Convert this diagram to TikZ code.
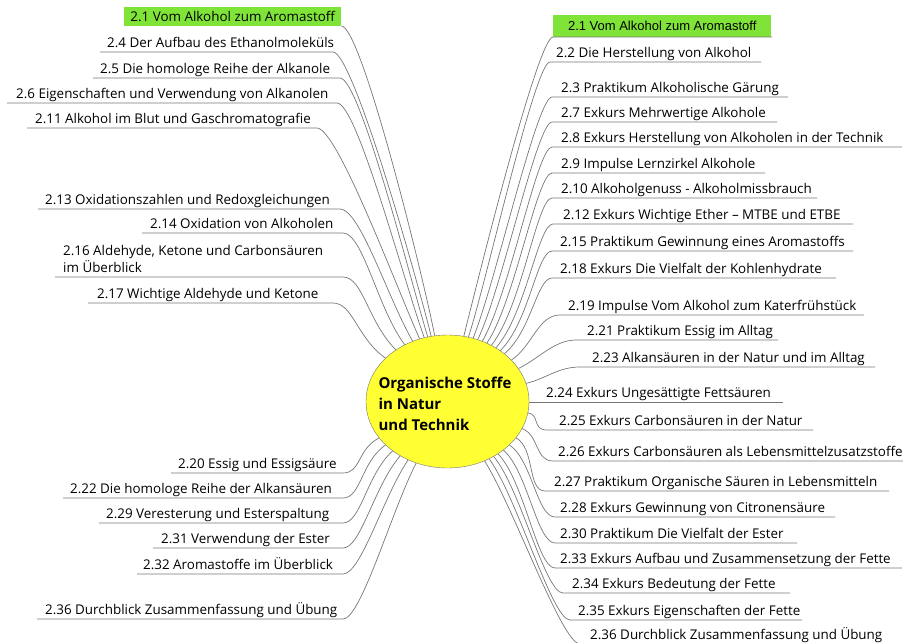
\documentclass[tikz,border=0pt]{standalone}
\usepackage{fontspec}
\setmainfont{Open Sans}
\newfontfamily\arialf{Liberation Sans}
\usetikzlibrary{shapes.geometric}
\definecolor{mmgreen}{RGB}{128,228,56}
\definecolor{mmyellow}{RGB}{255,255,51}
\definecolor{linegray}{RGB}{118,118,118}
\tikzset{
  lbl/.style={anchor=base west, inner sep=0pt, font=\fontsize{13.4}{17}\selectfont},
  conn/.style={draw=linegray, line width=0.7pt},
  hub/.style={ellipse, draw=linegray, fill=mmyellow, minimum width=163, minimum height=133, inner sep=0pt},
  hubtext/.style={inner sep=0pt, align=left, font=\bfseries\fontsize{15}{21}\selectfont},
  greenbox/.style={fill=mmgreen, inner sep=0pt, anchor=south west},
}
% left branch: name, text x, underline y, underline left x, underline right x, angle, out dist, in dist, text
\newcommand\LB[9]{%
  \node[lbl] (#1) at (#2,{-(#3)+5}) {#9};
  \coordinate (#1a) at (#4,-#3);
  \coordinate (#1b) at (#5,-#3);
  \draw[conn] (#1a) -- (#1b) to[out=0,in=#6,out distance=#7,in distance=#8] (c.#6);
}
% right branch
\newcommand\RB[9]{%
  \node[lbl] (#1) at (#2,{-(#3)+5}) {#9};
  \coordinate (#1a) at (#4,-#3);
  \coordinate (#1b) at (#5,-#3);
  \draw[conn] (#1b) -- (#1a) to[out=180,in=#6,out distance=#7,in distance=#8] (c.#6);
}
\begin{document}
\begin{tikzpicture}[x=1pt,y=1pt]
\useasboundingbox (0,0) rectangle (903,-643);
\node[hub] (c) at (447.5,-401.5) {};
\node[hubtext] (ct) at (445,-404) {Organische Stoffe\\in Natur\\und Technik};

% ---- left side ----
\node[greenbox, minimum width=217, minimum height=19, font=\fontsize{13.4}{15}\selectfont] (L1) at (124,-26) {2.1 Vom Alkohol zum Aromastoff};
\draw[conn] (L1.south east) to[out=0,in=101,out distance=20,in distance=60] (c.101);
\LB{L4}{107}{52}{100}{333}{104}{20}{60}{2.4 Der Aufbau des Ethanolmoleküls}
\LB{L5}{100}{78}{93}{340}{107}{20}{60}{2.5 Die homologe Reihe der Alkanole}
\LB{L6}{16}{103}{7}{337}{110}{20}{60}{2.6 Eigenschaften und Verwendung von Alkanolen}
\LB{L11}{35}{128}{27}{317}{114}{20}{60}{2.11 Alkohol im Blut und Gaschromatografie}
\LB{L13}{45}{209}{38}{340}{120}{20}{50}{2.13 Oxidationszahlen und Redoxgleichungen}
\LB{L14}{150}{233}{142}{343}{127}{20}{45}{2.14 Oxidation von Alkoholen}
\node[lbl, align=left] (L16) at (63,-272.5) {2.16 Aldehyde, Ketone und Carbonsäuren\\im Überblick};
\coordinate (L16a) at (55,-277);
\coordinate (L16b) at (343,-277);
\draw[conn] (L16a) -- (L16b) to[out=0,in=135,out distance=20,in distance=40] (c.135);
\LB{L17}{97}{303}{88}{333}{145}{20}{35}{2.17 Wichtige Aldehyde und Ketone}
\LB{L20}{178}{473}{171}{343}{208}{18}{25}{2.20 Essig und Essigsäure}
\LB{L22}{70}{498}{63}{343}{215}{18}{30}{2.22 Die homologe Reihe der Alkansäuren}
\LB{L29}{106}{523}{99}{343}{222}{18}{35}{2.29 Veresterung und Esterspaltung}
\LB{L31}{161}{548}{153}{343}{229}{18}{40}{2.31 Verwendung der Ester}
\LB{L32}{143}{574}{137}{343}{236}{18}{45}{2.32 Aromastoffe im Überblick}
\LB{L36}{45}{619}{37}{343}{243}{18}{55}{2.36 Durchblick Zusammenfassung und Übung}

% ---- right side ----
\node[greenbox, minimum width=218, minimum height=22, font=\arialf\fontsize{13}{15}\selectfont] (R1) at (553,-37) {2.1 Vom Alkohol zum Aromastoff};
\coordinate (R1b) at (772,-37);
\draw[conn] (R1b) -- (R1.south west) to[out=180,in=76,out distance=15,in distance=60] (c.76);
\RB{R2}{556}{62}{550}{761}{72}{15}{60}{2.2 Die Herstellung von Alkohol}
\RB{R3}{561}{97}{552}{788}{68}{15}{60}{2.3 Praktikum Alkoholische Gärung}
\RB{R7}{561}{122}{552}{777}{64}{15}{55}{2.7 Exkurs Mehrwertige Alkohole}
\RB{R8}{561}{147}{552}{902}{60}{15}{55}{2.8 Exkurs Herstellung von Alkoholen in der Technik}
\RB{R9}{561}{173}{552}{765}{56}{15}{50}{2.9 Impulse Lernzirkel Alkohole}
\RB{R10}{561}{198}{552}{817}{52}{15}{50}{2.10 Alkoholgenuss - Alkoholmissbrauch}
\RB{R12}{563}{224}{553}{853}{48}{15}{45}{2.12 Exkurs Wichtige Ether – MTBE und ETBE}
\RB{R15}{560}{251}{552}{853}{44}{15}{40}{2.15 Praktikum Gewinnung eines Aromastoffs}
\RB{R18}{560}{278}{552}{836}{40}{15}{35}{2.18 Exkurs Die Vielfalt der Kohlenhydrate}
\RB{R19}{568}{315}{560}{864}{33}{22}{25}{2.19 Impulse Vom Alkohol zum Katerfrühstück}
\RB{R21}{587}{340}{576}{778}{25}{22}{22}{2.21 Praktikum Essig im Alltag}
\RB{R23}{592}{367}{580}{875}{13}{22}{20}{2.23 Alkansäuren in der Natur und im Alltag}
\node[lbl] (R24) at (546,-397) {2.24 Exkurs Ungesättigte Fettsäuren};
\coordinate (R24b) at (783,-402);
\draw[conn] (R24b) -- (c.0 |- R24b) -- (c.0);
\RB{R25}{559}{430}{547}{813}{352}{15}{12}{2.25 Exkurs Carbonsäuren in der Natur}
\RB{R26}{558}{461}{553}{903}{340}{18}{18}{2.26 Exkurs Carbonsäuren als Lebensmittelzusatzstoffe}
\RB{R27}{554}{491}{545}{889}{332}{18}{22}{2.27 Praktikum Organische Säuren in Lebensmitteln}
\RB{R28}{560}{517}{555}{835}{325}{18}{28}{2.28 Exkurs Gewinnung von Citronensäure}
\RB{R30}{560}{543}{555}{797}{319}{18}{32}{2.30 Praktikum Die Vielfalt der Ester}
\RB{R33}{560}{568}{555}{902}{314}{18}{38}{2.33 Exkurs Aufbau und Zusammensetzung der Fette}
\RB{R34}{572}{593}{563}{790}{310}{18}{42}{2.34 Exkurs Bedeutung der Fette}
\RB{R35}{578}{620}{570}{802}{306}{18}{48}{2.35 Exkurs Eigenschaften der Fette}
\RB{R36}{590}{644}{580}{895}{302}{18}{55}{2.36 Durchblick Zusammenfassung und Übung}
\end{tikzpicture}
\end{document}
